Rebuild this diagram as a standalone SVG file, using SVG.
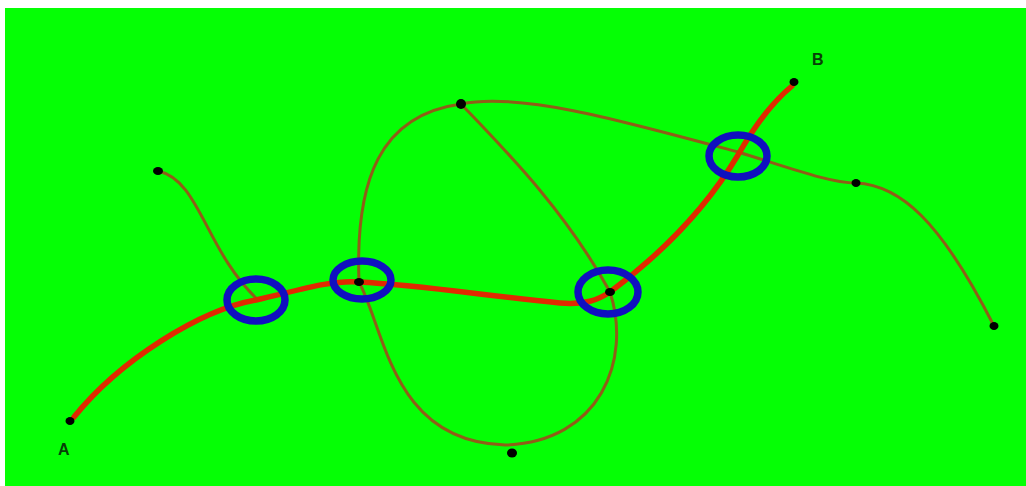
<svg xmlns="http://www.w3.org/2000/svg" width="1026" height="486" viewBox="0 0 1026 486">
<style>
.bg{fill:#05ff05}
.edge{fill:none;stroke:#8f5e18;stroke-width:3;stroke-linecap:round}
.route{fill:none;stroke:#e02a00;stroke-width:5.5;stroke-linecap:round}
.ring{fill:none;stroke:#1010c0;stroke-width:7.5}
.dot{fill:#000}
.lbl{font-family:"Liberation Sans",Arial,sans-serif;font-size:16px;font-weight:bold;fill:#084008}
</style>
<rect width="1026" height="486" fill="#fff"/>
<rect class="bg" x="5" y="8" width="1021" height="478"/>
<g id="connectors">
<path class="edge" d="M158 171 C200 180 205 250 258 300"/>
<path class="edge" d="M461 104 C380 115 355 180 359 282"/>
<path class="edge" d="M461 104 C520 92 620 120 738 152 C790 168 830 183 856 183"/>
<path class="edge" d="M461 104 C505 150 565 210 610 292"/>
<path class="edge" d="M856 183 C900 185 940 220 994 326"/>
<path class="edge" d="M359 282 C385 330 392 442 505 445 C600 442 632 360 610 292"/>
<path class="route" d="M74 417 C120 360 200 310 256 300 C300 290 330 280 359 282 C420 285 480 295 560 303 C585 305 598 300 610 292 C660 255 705 210 738 155 C755 125 775 100 792 86"/>
</g>
<g id="ring1"><ellipse class="ring" cx="256" cy="300" rx="29" ry="21"/></g>
<g id="ring2"><ellipse class="ring" cx="362" cy="280" rx="29" ry="19"/></g>
<g id="ring3"><ellipse class="ring" cx="608" cy="292" rx="30" ry="22"/></g>
<g id="ring4"><ellipse class="ring" cx="738" cy="156" rx="29" ry="21"/></g>
<g id="nodeA"><ellipse class="dot" cx="70" cy="421" rx="4.5" ry="4"/><text class="lbl" x="58" y="455">A</text></g>
<g id="nodeB"><ellipse class="dot" cx="794" cy="82" rx="4.5" ry="4"/><text class="lbl" x="812" y="65">B</text></g>
<g id="n1"><ellipse class="dot" cx="158" cy="171" rx="5" ry="4"/></g>
<g id="n2"><ellipse class="dot" cx="359" cy="282" rx="5" ry="4"/></g>
<g id="n3"><ellipse class="dot" cx="461" cy="104" rx="5" ry="5"/></g>
<g id="n4"><ellipse class="dot" cx="610" cy="292" rx="5" ry="4"/></g>
<g id="n5"><ellipse class="dot" cx="856" cy="183" rx="4.5" ry="4"/></g>
<g id="n6"><ellipse class="dot" cx="994" cy="326" rx="4.5" ry="4"/></g>
<g id="n7"><ellipse class="dot" cx="512" cy="453" rx="5" ry="4.5"/></g>
</svg>
